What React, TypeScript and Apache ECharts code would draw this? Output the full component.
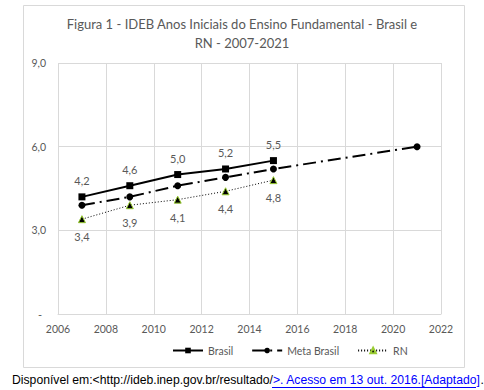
import React, { useEffect, useRef } from "react";
import * as echarts from "echarts";

const years = [2007, 2009, 2011, 2013, 2015];
const brasil = [4.2, 4.6, 5.0, 5.2, 5.5];
const rn = [3.4, 3.9, 4.1, 4.4, 4.8];
const metaYears = [2007, 2009, 2011, 2013, 2015, 2021];
const metaBrasil = [3.9, 4.2, 4.6, 4.9, 5.2, 6.0];
const titleText = "Figura 1 - IDEB Anos Iniciais do Ensino Fundamental - Brasil e\nRN - 2007-2021";
const sourceBlack = "Disponível em:<http://ideb.inep.gov.br/resultado/";
const sourceBlue = ">. Acesso em 13 out. 2016.[Adaptado]";

const fmt = (v: number) => v.toFixed(1).replace(".", ",");

export default function App() {
  const ref = useRef<HTMLDivElement>(null);
  useEffect(() => {
    if (!ref.current) return;
    const chart = echarts.init(ref.current, undefined, { renderer: "svg" });
    const gray = "#595959";
    const font = "Lato";
    chart.setOption({
      animation: false,
      backgroundColor: "#ffffff",
      title: {
        text: titleText,
        left: "center",
        top: 14,
        padding: 0,
        textStyle: { fontFamily: font, fontSize: 13, fontWeight: "normal", color: gray, lineHeight: 19 },
      },
      legend: {
        top: 345,
        left: 172,
        itemWidth: 30,
        itemHeight: 7,
        itemGap: 18,
        padding: 0,
        textStyle: { fontFamily: font, fontSize: 10.5, color: gray },
        data: ["Brasil", "Meta Brasil", "RN"],
      },
      grid: { left: 58, right: 43, top: 63, bottom: 76 },
      xAxis: {
        type: "value",
        min: 2006,
        max: 2022,
        interval: 2,
        axisLine: { show: true, lineStyle: { color: "#d9d9d9" } },
        axisTick: { show: false },
        axisLabel: { color: gray, fontFamily: font, fontSize: 10.5, margin: 9, formatter: (v: number) => String(v) },
        splitLine: { show: true, lineStyle: { color: "#d9d9d9" } },
      },
      yAxis: {
        type: "value",
        min: 0,
        max: 9,
        interval: 3,
        axisLine: { show: false },
        axisTick: { show: false },
        axisLabel: {
          color: gray,
          fontFamily: font,
          fontSize: 10.5,
          margin: 12,
          formatter: (v: number) => (v === 0 ? "{d|-}" : fmt(v)),
          rich: { d: { color: gray, fontFamily: font, fontSize: 11, padding: [0, 4, 0, 0] } },
        },
        splitLine: { show: true, lineStyle: { color: "#d9d9d9" } },
      },
      series: [
        {
          name: "Brasil",
          type: "line",
          data: years.map((y, i) => [y, brasil[i]]),
          symbol: "rect",
          symbolSize: 7,
          itemStyle: { color: "#000" },
          lineStyle: { color: "#000", width: 2 },
          label: {
            show: true,
            position: "top",
            distance: 7,
            color: gray,
            fontFamily: font,
            fontSize: 11,
            formatter: (p: any) => fmt(p.value[1]),
          },
          z: 3,
        },
        {
          name: "Meta Brasil",
          type: "line",
          data: metaYears.map((y, i) => [y, metaBrasil[i]]),
          symbol: "circle",
          symbolSize: 7,
          itemStyle: { color: "#000" },
          lineStyle: { color: "#000", width: 2, type: [13, 5, 2, 5] },
          z: 2,
        },
        {
          name: "RN",
          type: "line",
          data: years.map((y, i) => [y, rn[i]]),
          symbol: "triangle",
          symbolSize: 7,
          itemStyle: { color: "#000", borderColor: "#9acd32", borderWidth: 1 },
          lineStyle: { color: "#000", width: 1, type: [1, 2] },
          label: {
            show: true,
            position: "bottom",
            distance: 8,
            color: gray,
            fontFamily: font,
            fontSize: 11,
            formatter: (p: any) => fmt(p.value[1]),
          },
          z: 1,
        },
      ],
      graphic: [
        {
          type: "rect",
          shape: { x: 23.5, y: 5.5, width: 441, height: 362 },
          style: { fill: "none", stroke: "#d9d9d9", lineWidth: 1 },
          silent: true,
          z: -10,
        },
        {
          type: "text",
          x: 12,
          y: 380,
          style: {
            text: "{a|" + sourceBlack + "}{b|" + sourceBlue + "}{a|.}",
            textVerticalAlign: "middle",
            rich: {
              a: { fill: "#000", fontFamily: "Liberation Sans", fontSize: 12.2 },
              b: { fill: "#0000ff", fontFamily: "Liberation Sans", fontSize: 12.2 },
            },
          },
        },
        {
          type: "line",
          shape: { x1: 272, y1: 387.5, x2: 476, y2: 387.5 },
          style: { stroke: "#0000ff", lineWidth: 1 },
        },
      ],
    });
    return () => chart.dispose();
  }, []);
  return (
    <div
      ref={ref}
      style={{ position: "fixed", left: 0, top: 0, width: 484, height: 390 }}
    />
  );
}
